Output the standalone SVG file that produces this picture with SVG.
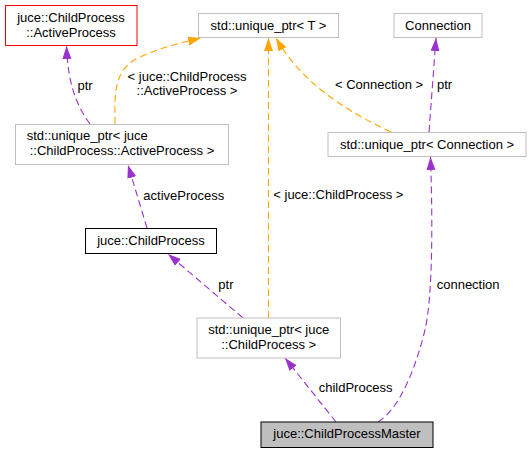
<svg xmlns="http://www.w3.org/2000/svg" width="532" height="453" viewBox="0 0 532 453">
<defs>
<style>
text{font-family:"Liberation Sans",Arial,Helvetica,sans-serif;font-size:13px;fill:#000}
.box{fill:#fff;stroke:#bfbfbf;stroke-width:1}
.m{text-anchor:middle}
.p{fill:none;stroke:#9a32cd;stroke-width:1.1;stroke-dasharray:7,4}
.o{fill:none;stroke:#ffa500;stroke-width:1.1;stroke-dasharray:7,4}
</style>
<marker id="ap" markerUnits="userSpaceOnUse" viewBox="0 0 13 10" refX="13" refY="5" markerWidth="13" markerHeight="10" orient="auto"><path d="M0,0.5 L13,5 L0,9.5 z" fill="#9a32cd"/></marker>
<marker id="ao" markerUnits="userSpaceOnUse" viewBox="0 0 13 10" refX="13" refY="5" markerWidth="13" markerHeight="10" orient="auto"><path d="M0,0.5 L13,5 L0,9.5 z" fill="#ffa500"/></marker>
</defs>
<rect width="532" height="453" fill="#fff"/>
<g id="edges">
<path class="p" d="M90,124 C80,110 68,90 66.5,46" marker-end="url(#ap)"/>
<path class="o" d="M115,124 C115,95 112,70 140,57 C160,48 180,43 201,38" marker-end="url(#ao)"/>
<path class="p" d="M147,228 L128,165" marker-end="url(#ap)"/>
<path class="p" d="M243,318 L168,254" marker-end="url(#ap)"/>
<path class="o" d="M268.5,318 L268.5,38" marker-end="url(#ao)"/>
<path class="o" d="M391,132 C340,108 300,80 276,38" marker-end="url(#ao)"/>
<path class="p" d="M429,132 L436,38" marker-end="url(#ap)"/>
<path class="p" d="M336,422 L285,358" marker-end="url(#ap)"/>
<path class="p" d="M378,422 C400,408 415,370 425,330 C434,290 432,200 430.5,157" marker-end="url(#ap)"/>
<text x="77.5" y="89.5">ptr</text>
<text class="m" x="187" y="81">&lt; juce::ChildProcess</text>
<text class="m" x="187" y="95">::ActiveProcess &gt;</text>
<text x="143.3" y="200">activeProcess</text>
<text x="218.3" y="288.5">ptr</text>
<text x="273.3" y="199">&lt; juce::ChildProcess &gt;</text>
<text x="335" y="88.5">&lt; Connection &gt;</text>
<text x="437" y="88.5">ptr</text>
<text x="436.7" y="288.5">connection</text>
<text x="318.7" y="392.3">childProcess</text>
</g>
<g id="n1"><rect class="box" x="5.5" y="5.5" width="131.5" height="40" style="stroke:#ff0000"/><text class="m" x="71" y="22">juce::ChildProcess</text><text class="m" x="71" y="37">::ActiveProcess</text></g>
<g id="n2"><rect class="box" x="198.5" y="13.5" width="140" height="24"/><text class="m" x="268.5" y="29.5">std::unique_ptr&lt; T &gt;</text></g>
<g id="n3"><rect class="box" x="394" y="13.5" width="88" height="24"/><text class="m" x="438" y="29.5">Connection</text></g>
<g id="n4"><rect class="box" x="15.5" y="124.5" width="213" height="40"/><text x="26.7" y="140">std::unique_ptr&lt; juce</text><text class="m" x="122" y="154.5">::ChildProcess::ActiveProcess &gt;</text></g>
<g id="n5"><rect class="box" x="328" y="132.5" width="198" height="24"/><text class="m" x="427" y="148.5">std::unique_ptr&lt; Connection &gt;</text></g>
<g id="n6"><rect class="box" x="85.5" y="228.5" width="131" height="25" style="stroke:#000"/><text class="m" x="151" y="245">juce::ChildProcess</text></g>
<g id="n7"><rect class="box" x="197" y="318" width="143.5" height="40"/><text class="m" x="268.7" y="334">std::unique_ptr&lt; juce</text><text class="m" x="268.7" y="348.5">::ChildProcess &gt;</text></g>
<g id="n8"><rect x="261" y="422" width="172" height="25.5" fill="#bfbfbf" stroke="#000"/><text class="m" x="347" y="438">juce::ChildProcessMaster</text></g>
</svg>
